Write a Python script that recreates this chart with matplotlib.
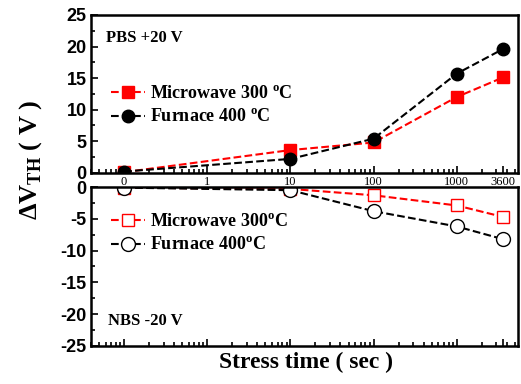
import numpy as np
import matplotlib.pyplot as plt
from matplotlib.ticker import FixedLocator, LogLocator, NullFormatter, MultipleLocator

plt.rcParams["mathtext.fontset"] = "custom"
plt.rcParams["mathtext.rm"] = "Liberation Serif:bold"

# stress time (sec); 0 is drawn at 0.1 on the log axis
time = np.array([0, 10, 100, 1000, 3600])
xpos = np.where(time == 0, 0.1, time)

pbs_mw = [0.1, 3.6, 4.8, 12.0, 15.1]
pbs_fur = [0.2, 2.2, 5.4, 15.7, 19.6]
nbs_mw = [-0.1, -0.3, -1.3, -2.9, -4.7]
nbs_fur = [-0.1, -0.5, -3.8, -6.2, -8.2]

tick_pos = [0.1, 1, 10, 100, 1000, 3600]
tick_lab = ["0", "1", "10", "100", "1000", "3600"]

serif = "Liberation Serif"
sans = "Liberation Sans"

fig = plt.figure(figsize=(5.21, 3.84), dpi=100)
ax1 = fig.add_axes([0.1747, 0.550, 0.820, 0.411])
ax2 = fig.add_axes([0.1747, 0.099, 0.820, 0.414])

for ax in (ax1, ax2):
    ax.set_xscale("log")
    ax.set_xlim(0.04, 5500)
    ax.xaxis.set_major_locator(FixedLocator(tick_pos))
    ax.xaxis.set_minor_locator(LogLocator(base=10, subs=np.arange(2, 10), numticks=20))
    ax.xaxis.set_minor_formatter(NullFormatter())
    ax.yaxis.set_minor_locator(MultipleLocator(2.5))
    ax.tick_params(which="both", direction="in", width=1.2)
    ax.tick_params(which="major", length=5)
    ax.tick_params(which="minor", length=3)
    ax.tick_params(axis="y", pad=3)
    for s in ax.spines.values():
        s.set_linewidth(1.8)

ax1.set_ylim(0, 25)
ax2.set_ylim(-25, 0)
ax1.set_xticklabels(tick_lab, fontfamily=serif, fontsize=9)
ax1.tick_params(axis="x", pad=2)
ax2.set_xticklabels([])
ax1.set_yticks([0, 5, 10, 15, 20, 25])
ax1.set_yticklabels(["0", "5", "10", "15", "20", "25"], fontfamily=sans, fontweight="bold", fontsize=13)
ax2.set_yticks([0, -5, -10, -15, -20, -25])
ax2.set_yticklabels(["0", "-5", "-10", "-15", "-20", "-25"], fontfamily=sans, fontweight="bold", fontsize=13)

ax1.plot(xpos, pbs_mw, "s--", color="red", ms=8, lw=1.5, label="Microwave 300 $^{\\mathrm{o}}$C")
ax1.plot(xpos, pbs_fur, "o--", color="black", ms=9, lw=1.5, label="Furnace 400 $^{\\mathrm{o}}$C")
ax2.plot(xpos, nbs_mw, "s--", color="red", mfc="white", ms=9, mew=1.0, lw=1.5, label="Microwave 300$^{\\mathrm{o}}$C")
ax2.plot(xpos, nbs_fur, "o--", color="black", mfc="white", ms=10, mew=1.0, lw=1.5, label="Furnace 400$^{\\mathrm{o}}$C")

leg_font = {"family": serif, "weight": "bold", "size": 13}
ax1.legend(loc="upper left", bbox_to_anchor=(0.03, 0.60), frameon=False, prop=leg_font,
           handlelength=1.9, handletextpad=0.25, labelspacing=0.35, borderaxespad=0)
ax2.legend(loc="upper left", bbox_to_anchor=(0.03, 0.88), frameon=False, prop=leg_font,
           handlelength=1.9, handletextpad=0.25, labelspacing=0.35, borderaxespad=0)

ax1.text(0.035, 0.83, "PBS +20 V", transform=ax1.transAxes, fontfamily=serif,
         fontweight="bold", fontsize=12)
ax2.text(0.04, 0.13, "NBS -20 V", transform=ax2.transAxes, fontfamily=serif,
         fontweight="bold", fontsize=12)

fig.text(0.058, 0.583, "$\\Delta$V$_{\\mathrm{TH}}$ ( V )", rotation=90, ha="center", va="center",
         fontfamily=serif, fontweight="bold", fontsize=19)
fig.text(0.588, 0.057, "Stress time ( sec )", ha="center", va="center",
         fontfamily=serif, fontweight="bold", fontsize=17)

fig.savefig("out.png", dpi=100)
